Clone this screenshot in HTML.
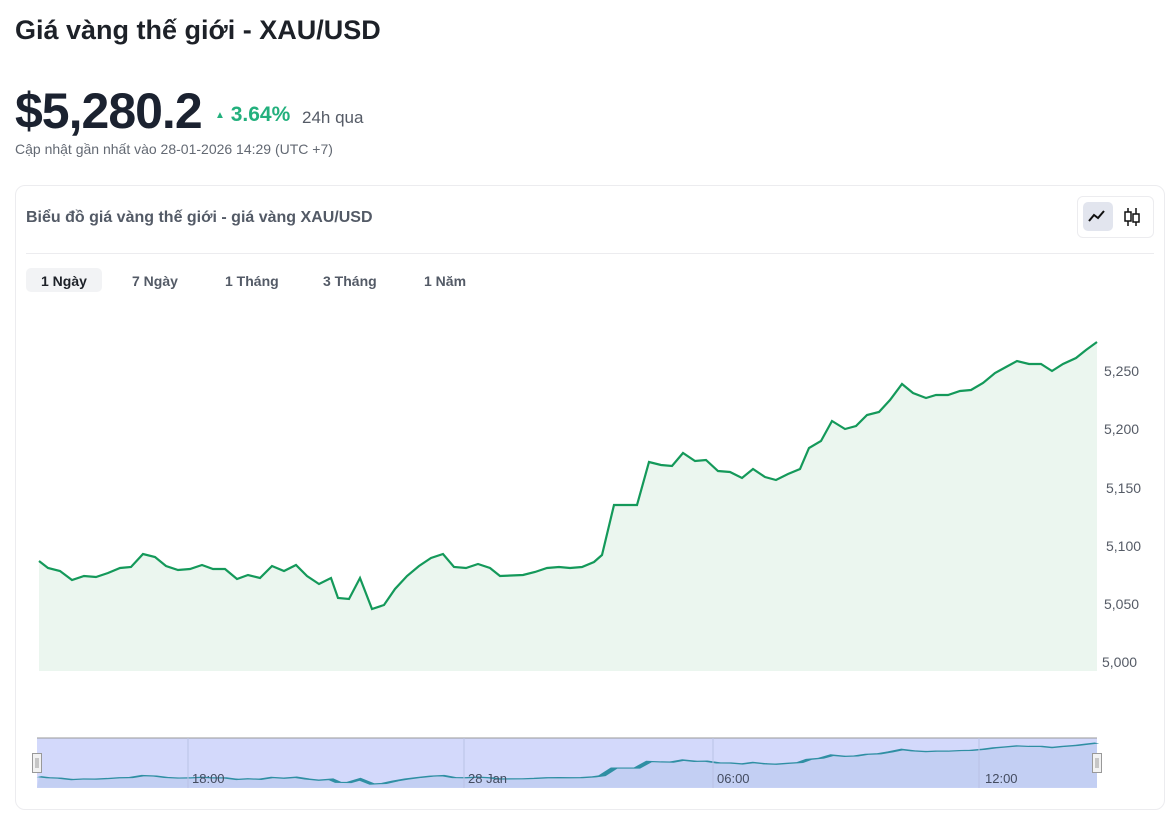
<!DOCTYPE html>
<html><head><meta charset="utf-8"><style>
body{margin:0;width:1167px;height:813px;background:#fff;font-family:"Liberation Sans",sans-serif;position:relative;overflow:hidden;color:#1a2030}
.a{position:absolute;white-space:nowrap}
</style></head><body>
<div class="a" style="left:15px;top:15px;font-size:27px;font-weight:bold;color:#1d2128">Giá vàng thế giới - XAU/USD</div>
<div class="a" style="left:15px;top:82px;font-size:50px;font-weight:bold;color:#1b2230;letter-spacing:-1px">$5,280.2</div>
<div class="a" style="left:215px;top:103px;font-size:21px;font-weight:bold;color:#23b07d"><span style="font-size:10px;vertical-align:3px">▲</span> 3.64%</div>
<div class="a" style="left:302px;top:108px;font-size:17px;color:#555b66">24h qua</div>
<div class="a" style="left:15px;top:141px;font-size:14px;color:#636973">Cập nhật gần nhất vào 28-01-2026 14:29 (UTC +7)</div>
<div class="a" style="left:15px;top:185px;width:1148px;height:623px;border:1px solid #ececef;border-radius:10px"></div>
<div class="a" style="left:26px;top:209px;font-size:16px;font-weight:bold;color:#535a66">Biểu đồ giá vàng thế giới - giá vàng XAU/USD</div>
<div class="a" style="left:1077px;top:196px;width:75px;height:40px;border:1px solid #ececef;border-radius:6px"></div>
<div class="a" style="left:1083px;top:202px;width:30px;height:29px;background:#e2e5ee;border-radius:5px"></div>
<svg class="a" style="left:1085px;top:204px" width="60" height="26"><polyline points="4,17 9,11 13,14 19,7" fill="none" stroke="#111" stroke-width="2"/><g stroke="#111" stroke-width="1.5" fill="none"><line x1="43" y1="4" x2="43" y2="22"/><rect x="40" y="8" width="6" height="9" fill="#fff"/><line x1="51" y1="4" x2="51" y2="22"/><rect x="48" y="10" width="6" height="8" fill="#fff"/></g></svg>
<div class="a" style="left:26px;top:253px;width:1128px;height:1px;background:#ececef"></div>
<div class="a" style="left:26px;top:268px;width:76px;height:24px;background:#f2f3f5;border-radius:5px"></div>
<div class="a" style="left:41px;top:273px;font-size:14px;font-weight:bold;color:#1d2128">1 Ngày</div>
<div class="a" style="left:132px;top:273px;font-size:14px;font-weight:bold;color:#535a66">7 Ngày</div>
<div class="a" style="left:225px;top:273px;font-size:14px;font-weight:bold;color:#535a66">1 Tháng</div>
<div class="a" style="left:323px;top:273px;font-size:14px;font-weight:bold;color:#535a66">3 Tháng</div>
<div class="a" style="left:424px;top:273px;font-size:14px;font-weight:bold;color:#535a66">1 Năm</div>
<svg class="a" style="left:0;top:0" width="1167" height="813">
<polygon points="39,561 48,568 60,571 72,580 84,576 96,577 108,573 120,568 131,567 143,554 155,557 166,566 178,570 190,569 202,565 213,569 225,569 237,579 248,575 260,578 272,566 284,571 296,565 307,576 319,584 331,578 338,598 349,599 360,578 372,609 384,605 395,589 407,576 419,566 431,558 443,554 454,567 466,568 478,564 490,568 500,576 523,575 535,572 547,568 559,567 570,568 582,567 594,562 602,555 614,505 637,505 649,462 661,465 672,466 683,453 695,461 706,460 718,471 730,472 742,478 753,469 765,477 776,480 788,474 800,469 809,448 821,441 832,421 845,429 856,426 867,415 879,412 890,400 902,384 913,393 926,398 936,395 948,395 960,391 971,390 983,383 995,373 1006,367 1017,361 1029,364 1041,364 1052,371 1063,364 1076,358 1086,350 1097,342 1097,671 39,671" fill="#ebf6ef"/>
<polyline points="39,561 48,568 60,571 72,580 84,576 96,577 108,573 120,568 131,567 143,554 155,557 166,566 178,570 190,569 202,565 213,569 225,569 237,579 248,575 260,578 272,566 284,571 296,565 307,576 319,584 331,578 338,598 349,599 360,578 372,609 384,605 395,589 407,576 419,566 431,558 443,554 454,567 466,568 478,564 490,568 500,576 523,575 535,572 547,568 559,567 570,568 582,567 594,562 602,555 614,505 637,505 649,462 661,465 672,466 683,453 695,461 706,460 718,471 730,472 742,478 753,469 765,477 776,480 788,474 800,469 809,448 821,441 832,421 845,429 856,426 867,415 879,412 890,400 902,384 913,393 926,398 936,395 948,395 960,391 971,390 983,383 995,373 1006,367 1017,361 1029,364 1041,364 1052,371 1063,364 1076,358 1086,350 1097,342" fill="none" stroke="#14995a" stroke-width="2.2"/>
<g font-size="14" fill="#555b66" font-family="Liberation Sans,sans-serif">
<text x="1104" y="376">5,250</text><text x="1104" y="434">5,200</text><text x="1106" y="493">5,150</text><text x="1106" y="551">5,100</text><text x="1104" y="609">5,050</text><text x="1102" y="667">5,000</text></g>
<rect x="37" y="738" width="1060" height="50" fill="#d3d9fb"/>
<line x1="37" y1="738" x2="1097" y2="738" stroke="#999" stroke-width="1"/>
<g transform="translate(0,690.5) scale(1,0.1536)"><polygon points="39,561 48,568 60,571 72,580 84,576 96,577 108,573 120,568 131,567 143,554 155,557 166,566 178,570 190,569 202,565 213,569 225,569 237,579 248,575 260,578 272,566 284,571 296,565 307,576 319,584 331,578 338,598 349,599 360,578 372,609 384,605 395,589 407,576 419,566 431,558 443,554 454,567 466,568 478,564 490,568 500,576 523,575 535,572 547,568 559,567 570,568 582,567 594,562 602,555 614,505 637,505 649,462 661,465 672,466 683,453 695,461 706,460 718,471 730,472 742,478 753,469 765,477 776,480 788,474 800,469 809,448 821,441 832,421 845,429 856,426 867,415 879,412 890,400 902,384 913,393 926,398 936,395 948,395 960,391 971,390 983,383 995,373 1006,367 1017,361 1029,364 1041,364 1052,371 1063,364 1076,358 1086,350 1097,342 1097,633 37,633" fill="#c3cff3"/>
<polyline points="39,561 48,568 60,571 72,580 84,576 96,577 108,573 120,568 131,567 143,554 155,557 166,566 178,570 190,569 202,565 213,569 225,569 237,579 248,575 260,578 272,566 284,571 296,565 307,576 319,584 331,578 338,598 349,599 360,578 372,609 384,605 395,589 407,576 419,566 431,558 443,554 454,567 466,568 478,564 490,568 500,576 523,575 535,572 547,568 559,567 570,568 582,567 594,562 602,555 614,505 637,505 649,462 661,465 672,466 683,453 695,461 706,460 718,471 730,472 742,478 753,469 765,477 776,480 788,474 800,469 809,448 821,441 832,421 845,429 856,426 867,415 879,412 890,400 902,384 913,393 926,398 936,395 948,395 960,391 971,390 983,383 995,373 1006,367 1017,361 1029,364 1041,364 1052,371 1063,364 1076,358 1086,350 1097,342" fill="none" stroke="#2f8fa3" stroke-width="8"/></g>
<g stroke="#b9c2e6" stroke-width="1"><line x1="188" y1="738" x2="188" y2="788"/><line x1="464" y1="738" x2="464" y2="788"/><line x1="713" y1="738" x2="713" y2="788"/><line x1="979" y1="738" x2="979" y2="788"/></g>
<g font-size="13" fill="#444c60" font-family="Liberation Sans,sans-serif"><text x="192" y="783">18:00</text><text x="468" y="783">28 Jan</text><text x="717" y="783">06:00</text><text x="985" y="783">12:00</text></g>
<rect x="32.5" y="753.5" width="9" height="19" fill="#f2f2f2" stroke="#999"/><line x1="36" y1="758" x2="36" y2="768" stroke="#999"/><line x1="38" y1="758" x2="38" y2="768" stroke="#999"/>
<rect x="1092.5" y="753.5" width="9" height="19" fill="#f2f2f2" stroke="#999"/><line x1="1096" y1="758" x2="1096" y2="768" stroke="#999"/><line x1="1098" y1="758" x2="1098" y2="768" stroke="#999"/>
</svg>
</body></html>
